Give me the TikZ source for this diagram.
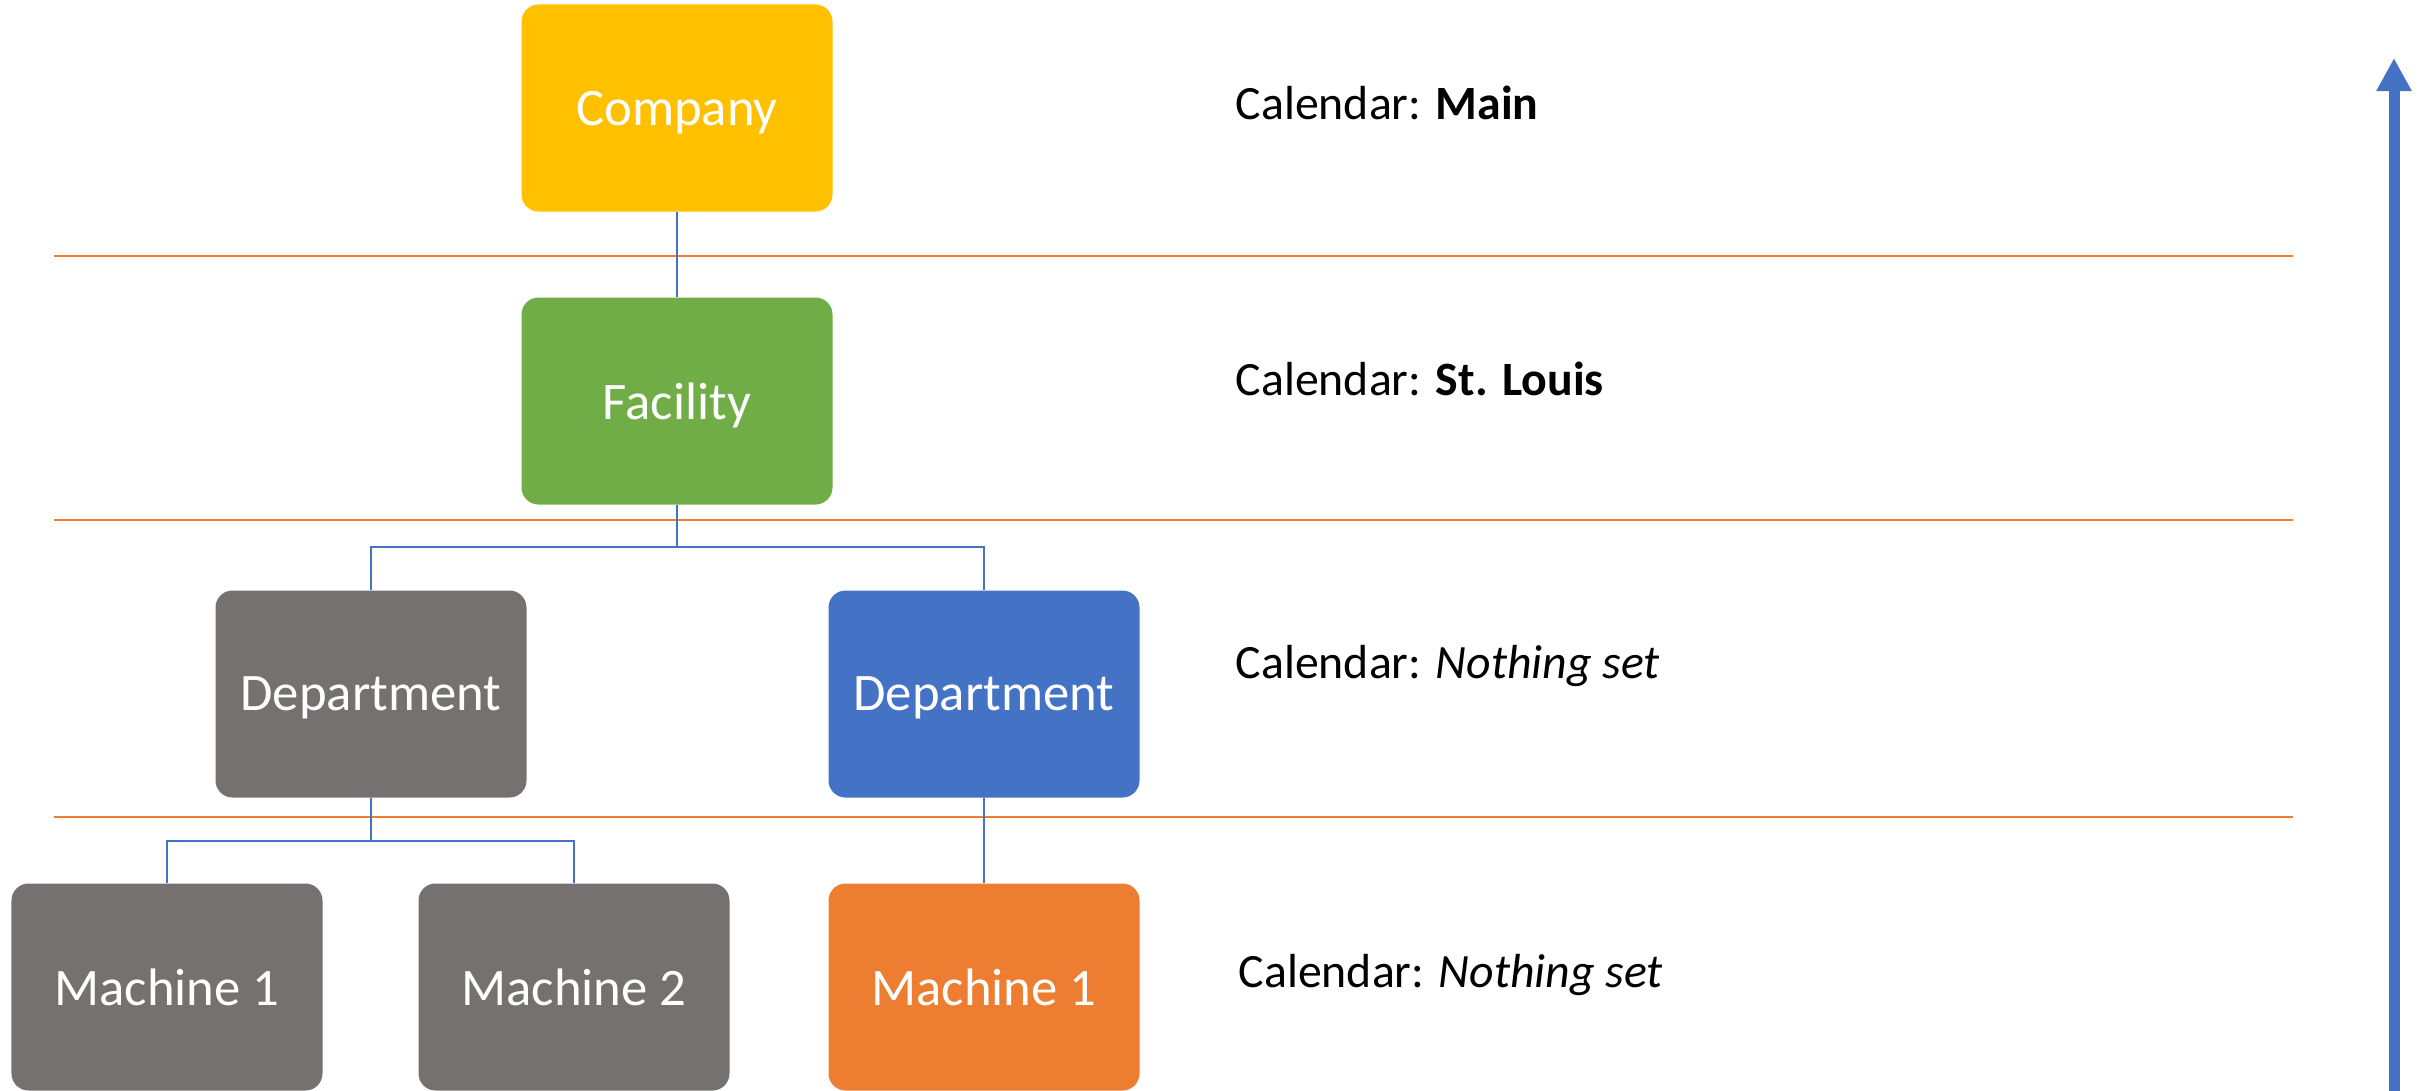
\documentclass[tikz,border=0pt]{standalone}
\usepackage{fontspec}
\setmainfont{Carlito}
\usetikzlibrary{arrows.meta}

\definecolor{compyellow}{HTML}{FFC000}
\definecolor{facgreen}{HTML}{70AD47}
\definecolor{depgray}{HTML}{767171}
\definecolor{depblue}{HTML}{4472C4}
\definecolor{machorange}{HTML}{ED7D31}

\begin{document}
\begin{tikzpicture}[
    unitbox/.style = {rounded corners = 0.17cm, minimum width = 3.11cm, minimum height = 2.07cm,
                      text = white, font = \fontsize{15}{18}\selectfont, inner sep = 0pt, text depth = 0pt},
    caltext/.style = {anchor = west, inner sep = 0pt, font = \fontsize{13.6}{16}\selectfont},
    link/.style = {draw = depblue, line width = 0.02cm},
    level/.style = {draw = machorange, line width = 0.025cm}
]
    \useasboundingbox (0,0) rectangle (24.18,-10.91);

    % level separators
    \foreach \y in {-2.56, -5.20, -8.17}
        \draw[level] (0.54,\y) -- (22.93,\y);

    \node[unitbox, fill = compyellow] (company) at (6.77,-1.08) {Company};
    \node[unitbox, fill = facgreen] (facility) at (6.77,-4.01) {Facility};
    \node[unitbox, fill = depgray] (depa) at (3.71,-6.94) {Department};
    \node[unitbox, fill = depblue] (depb) at (9.84,-6.94) {Department};
    \node[unitbox, fill = depgray] (macha) at (1.67,-9.87) {Machine 1};
    \node[unitbox, fill = depgray] (machb) at (5.74,-9.87) {Machine 2};
    \node[unitbox, fill = machorange] (machc) at (9.84,-9.87) {Machine 1};

    \draw[link] (company.south) -- (facility.north);
    \draw[link] (facility.south) -- ++(0,-0.42) -| (depa.north);
    \draw[link] (facility.south) -- ++(0,-0.42) -| (depb.north);
    \draw[link] (depa.south) -- ++(0,-0.43) -| (macha.north);
    \draw[link] (depa.south) -- ++(0,-0.43) -| (machb.north);
    \draw[link] (depb.south) -- (machc.north);

    \node[caltext] (calmain) at (12.35,-1.03) {Calendar: \textbf{Main}};
    \node[caltext] (calfac) at (12.35,-3.79) {Calendar: \textbf{St. Louis}};
    \node[caltext] (caldep) at (12.35,-6.66) {Calendar: \textit{Nothing set}};
    \node[caltext] (calmach) at (12.38,-9.75) {Calendar: \textit{Nothing set}};

    % inheritance direction
    \coordinate (arrlow) at (23.94,-10.91);
    \coordinate (arrtop) at (23.94,-0.58);
    \draw[-{Triangle[width = 0.33cm, length = 0.33cm]}, draw = depblue, fill = depblue, line width = 0.11cm] (arrlow) -- (arrtop);
\end{tikzpicture}
\end{document}
